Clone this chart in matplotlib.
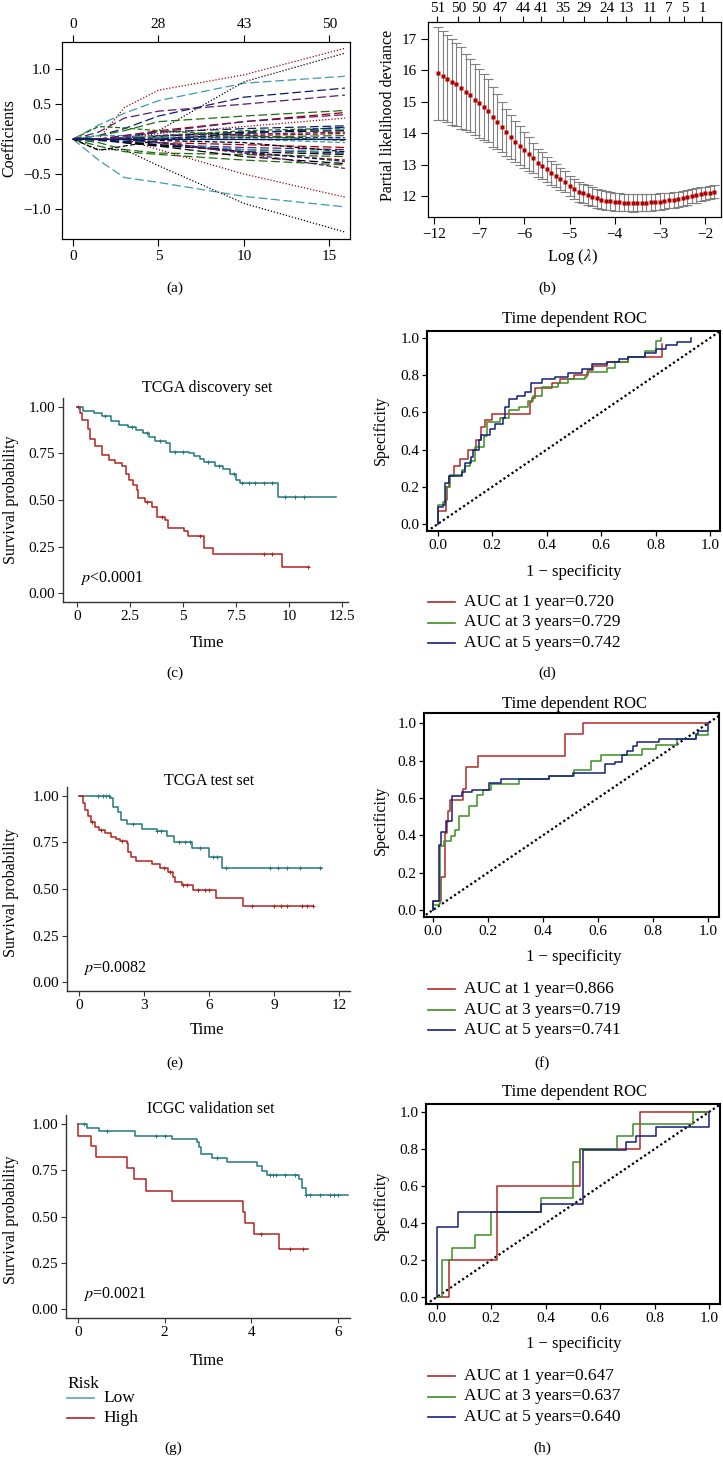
# LASSO / survival / ROC panel figure
import numpy as np
import matplotlib.pyplot as plt
from matplotlib.lines import Line2D

plt.rcParams['font.family'] = ['Liberation Serif', 'DejaVu Serif']
plt.rcParams['mathtext.fontset'] = 'stix'
plt.rcParams['xtick.labelsize'] = 11
plt.rcParams['ytick.labelsize'] = 11

# ---------------- (a) coefficient paths ----------------
a_l1 = [0, 1.5, 3, 5, 10, 15.9]
a_paths = [
    [0, 0, 0.45, 0.70, 0.92, 1.30],
    [0, 0.20, 0.37, 0.55, 0.80, 0.90],
    [0, 0, 0, 0.12, 0.82, 1.23],
    [0, 0.05, 0.15, 0.33, 0.60, 0.73],
    [0, 0.10, 0.30, 0.40, 0.50, 0.63],
    [0, 0.05, 0.12, 0.25, 0.33, 0.41],
    [0, 0, 0.05, 0.12, 0.25, 0.38],
    [0, 0, 0.02, 0.08, 0.18, 0.30],
    [0, 0, 0.03, 0.10, 0.15, 0.19],
    [0, 0, 0.01, 0.05, 0.12, 0.16],
    [0, 0, 0.02, 0.05, 0.10, 0.14],
    [0, 0, 0.00, 0.04, 0.10, 0.12],
    [0, 0, 0.02, 0.05, 0.07, 0.10],
    [0, 0, 0, 0.02, 0.05, 0.08],
    [0, 0, 0, 0.02, 0.03, 0.05],
    [0, 0, 0, 0, 0.02, 0.02],
    [0, 0.05, 0.05, 0.03, 0.00, -0.05],
    [0, 0, -0.02, -0.05, -0.08, -0.12],
    [0, 0, -0.05, -0.08, -0.12, -0.15],
    [0, -0.02, -0.05, -0.10, -0.15, -0.20],
    [0, 0, -0.03, -0.08, -0.18, -0.22],
    [0, -0.05, -0.15, -0.20, -0.22, -0.25],
    [0, 0, -0.02, -0.06, -0.15, -0.18],
    [0, 0, 0, -0.05, -0.20, -0.30],
    [0, 0, 0, -0.05, -0.18, -0.32],
    [0, 0, -0.05, -0.10, -0.25, -0.35],
    [0, -0.10, -0.18, -0.22, -0.30, -0.37],
    [0, 0, 0, -0.05, -0.20, -0.42],
    [0, 0, 0, -0.15, -0.50, -0.83],
    [0, -0.30, -0.55, -0.62, -0.82, -0.97],
    [0, -0.15, -0.15, -0.38, -0.92, -1.33],
    [0, 0.18, 0.16, 0.12, 0.05, -0.02],
    [0, 0, 0.05, 0.10, 0.25, 0.35],
    [0, 0, -0.04, 0.00, 0.08, 0.17],
    [0, -0.16, -0.10, -0.02, -0.05, -0.18],
    [0, 0, 0, 0, 0, 0],
]
a_cols = ['r', 'c', 'k', 'b', 'm', 'g', 'r', 'r', 'b', 'g', 'c', 'k',
          'm', 'r', 'g', 'b', 'c', 'r', 'm', 'b', 'k', 'g', 'c', 'r',
          'b', 'k', 'g', 'm', 'r', 'c', 'k', 'g', 'm', 'b', 'k', 'b']
a_dash = ['d', 'l', 'd', 'l', 'l', 'l', 'l', 'd', 'l', 's', 'l', 'l',
          's', 's', 'l', 's', 's', 'l', 'l', 'l', 'l', 'l', 'l', 's',
          's', 'l', 'l', 's', 'd', 'l', 'd', 's', 'l', 'l', 's', 'o']
a_ticks = [0, 5, 10, 15]
a_df = ['0', '28', '43', '50']

# ---------------- (b) cross-validation curve ----------------
b_loglam = [-7.9, -7.8, -7.7, -7.6, -7.5, -7.4, -7.3, -7.2, -7.1, -7.0,
            -6.9, -6.8, -6.7, -6.6, -6.5, -6.4, -6.3, -6.2, -6.1, -6.0,
            -5.9, -5.8, -5.7, -5.6, -5.5, -5.4, -5.3, -5.2, -5.1, -5.0,
            -4.9, -4.8, -4.7, -4.6, -4.5, -4.4, -4.3, -4.2, -4.1, -4.0,
            -3.9, -3.8, -3.7, -3.6, -3.5, -3.4, -3.3, -3.2, -3.1, -3.0,
            -2.9, -2.8, -2.7, -2.6, -2.5, -2.4, -2.3, -2.2, -2.1, -2.0,
            -1.9, -1.8]
b_dev = [15.90, 15.83, 15.74, 15.64, 15.55, 15.44, 15.31, 15.20, 15.07, 14.95,
         14.84, 14.71, 14.52, 14.36, 14.20, 14.03, 13.89, 13.73, 13.60, 13.47,
         13.34, 13.20, 13.05, 12.97, 12.85, 12.73, 12.65, 12.54, 12.46, 12.32,
         12.22, 12.14, 12.08, 12.03, 11.98, 11.92, 11.88, 11.85, 11.83, 11.82,
         11.80, 11.79, 11.79, 11.78, 11.78, 11.78, 11.79, 11.80, 11.81, 11.82,
         11.84, 11.86, 11.88, 11.90, 11.93, 11.96, 11.99, 12.02, 12.06, 12.08,
         12.11, 12.14]
b_se = [1.47, 1.42, 1.40, 1.37, 1.33, 1.30, 1.22, 1.17, 1.14, 1.10,
        1.05, 1.00, 0.95, 0.88, 0.80, 0.75, 0.70, 0.66, 0.62, 0.57,
        0.53, 0.48, 0.45, 0.42, 0.39, 0.37, 0.36, 0.35, 0.34, 0.33,
        0.33, 0.32, 0.31, 0.31, 0.30, 0.30, 0.30, 0.30, 0.29, 0.29,
        0.28, 0.28, 0.28, 0.28, 0.27, 0.27, 0.27, 0.27, 0.26, 0.26,
        0.26, 0.25, 0.25, 0.24, 0.24, 0.24, 0.23, 0.23, 0.22, 0.22,
        0.21, 0.21]
b_ticks = [-8, -7, -6, -5, -4, -3, -2]
b_ticklabels = ['\u221212', '\u22127', '\u22126', '\u22125', '\u22124', '\u22123', '\u22122']
b_top_pos = [-7.92, -7.46, -7.0, -6.54, -6.02, -5.62, -5.14, -4.67, -4.18,
             -3.75, -3.22, -2.8, -2.46, -2.07]
b_top_df = ['51', '50', '50', '47', '44', '41', '35', '29', '24', '13', '11', '7', '5', '1']

# ---------------- (c) TCGA discovery set ----------------
c_low_t = [0, 0.3, 0.8, 1.2, 1.6, 2.0, 2.4, 2.8, 3.1, 3.4, 3.7, 4.2, 4.4, 5.3, 5.5,
           5.8, 6.0, 6.5, 6.9, 7.2, 7.5, 7.7, 9.5, 12.2]
c_low_s = [1.0, 0.98, 0.965, 0.95, 0.925, 0.905, 0.89, 0.875, 0.86, 0.84, 0.815,
           0.805, 0.76, 0.75, 0.735, 0.72, 0.705, 0.685, 0.665, 0.64, 0.61, 0.59,
           0.515, 0.515]
c_low_cens = [0.05, 1.3, 2.6, 3.3, 3.9, 4.6, 5.0, 6.2, 6.7, 7.4, 7.8, 8.1, 8.4,
              8.8, 9.2, 9.8, 10.3, 10.7]
c_high_t = [0, 0.15, 0.25, 0.5, 0.62, 0.85, 1.2, 1.5, 1.8, 2.1, 2.3, 2.45, 2.65,
            2.85, 2.9, 3.2, 3.55, 3.75, 4.15, 4.3, 5.05, 5.25, 6.0, 6.4, 9.67, 10.93]
c_high_s = [1.0, 0.965, 0.93, 0.88, 0.83, 0.79, 0.74, 0.715, 0.70, 0.68, 0.64, 0.61,
            0.58, 0.555, 0.51, 0.49, 0.465, 0.41, 0.39, 0.35, 0.335, 0.305, 0.24,
            0.21, 0.14, 0.14]
c_high_cens = [3.3, 4.0, 5.8, 8.8, 9.2, 10.9]

# ---------------- (e) TCGA test set ----------------
e_low_t = [0, 1.45, 1.55, 1.8, 1.95, 2.2, 2.9, 3.6, 4.05, 4.4, 5.2, 6.0, 6.6, 11.2]
e_low_s = [1.0, 0.99, 0.94, 0.915, 0.87, 0.85, 0.825, 0.81, 0.785, 0.755, 0.72,
           0.67, 0.615, 0.615]
e_low_cens = [0.9, 1.1, 1.25, 1.4, 2.5, 3.6, 3.8, 4.6, 4.9, 5.1, 5.6, 6.2, 6.35,
              6.8, 8.8, 9.2, 9.6, 10.2, 11.1]
e_high_t = [0, 0.18, 0.3, 0.42, 0.57, 0.72, 0.92, 1.2, 1.5, 1.72, 1.9, 2.2, 2.26,
            2.42, 2.62, 3.37, 3.73, 4.1, 4.35, 4.42, 4.73, 5.24, 6.32, 7.55, 10.8]
e_high_s = [1.0, 0.96, 0.925, 0.89, 0.86, 0.835, 0.815, 0.8, 0.78, 0.77, 0.76, 0.745,
            0.7, 0.672, 0.65, 0.636, 0.615, 0.59, 0.565, 0.54, 0.52, 0.493, 0.453,
            0.408, 0.408]
e_high_cens = [0.6, 1.0, 2.0, 3.9, 4.2, 4.8, 5.0, 5.5, 5.8, 6.0, 8.0, 9.0, 9.3,
               9.6, 10.3, 10.5, 10.8]

# ---------------- (g) ICGC validation set ----------------
g_low_t = [0, 0.21, 0.48, 1.31, 2.16, 2.74, 2.8, 2.83, 3.1, 3.45, 4.14, 4.24, 4.36,
           5.1, 5.17, 5.27, 6.23]
g_low_s = [1.0, 0.98, 0.96, 0.937, 0.921, 0.9, 0.875, 0.835, 0.815, 0.795, 0.77,
           0.745, 0.725, 0.7, 0.655, 0.615, 0.615]
g_low_cens = [0.14, 0.66, 1.8, 2.02, 3.2, 4.43, 4.5, 4.58, 4.78, 5.01, 5.27, 5.36,
              5.59, 5.82, 5.9, 6.01]
g_high_t = [0, 0, 0.31, 0.41, 1.13, 1.3, 1.56, 2.18, 3.82, 3.86, 4.07, 4.63, 5.3]
g_high_s = [1.0, 0.934, 0.88, 0.82, 0.76, 0.70, 0.637, 0.583, 0.525, 0.463, 0.408,
            0.323, 0.323]
g_high_cens = [4.22, 4.9, 5.2]

# ---------------- ROC curves ----------------
d_fpr_1 = [0, 0, 0.03, 0.035, 0.04, 0.06, 0.08, 0.11, 0.14, 0.16, 0.174, 0.2, 0.34,
           0.345, 0.358, 0.42, 0.45, 0.5, 0.55, 0.57, 0.62, 0.7, 0.8, 0.825]
d_tpr_1 = [0, 0.07, 0.13, 0.2, 0.26, 0.31, 0.35, 0.40, 0.45, 0.52, 0.56, 0.59, 0.657,
           0.68, 0.733, 0.76, 0.78, 0.80, 0.83, 0.85, 0.87, 0.90, 0.90, 0.97]
d_fpr_3 = [0, 0, 0.02, 0.03, 0.045, 0.09, 0.1, 0.119, 0.137, 0.168, 0.18, 0.23, 0.26,
           0.3, 0.33, 0.35, 0.383, 0.44, 0.48, 0.54, 0.548, 0.62, 0.65, 0.7, 0.76,
           0.8, 0.82]
d_tpr_3 = [0, 0.10, 0.12, 0.2, 0.263, 0.29, 0.31, 0.338, 0.415, 0.472, 0.549, 0.57,
           0.612, 0.63, 0.66, 0.69, 0.737, 0.76, 0.78, 0.79, 0.818, 0.84, 0.87, 0.9,
           0.93, 0.982, 1.0]
d_fpr_5 = [0, 0, 0.02, 0.027, 0.04, 0.09, 0.1, 0.12, 0.13, 0.15, 0.16, 0.19, 0.21,
           0.24, 0.248, 0.26, 0.29, 0.32, 0.344, 0.383, 0.43, 0.48, 0.53, 0.567,
           0.622, 0.665, 0.7, 0.76, 0.8, 0.84, 0.88, 0.93]
d_tpr_5 = [0, 0.09, 0.1, 0.22, 0.26, 0.28, 0.33, 0.36, 0.40, 0.45, 0.48, 0.51, 0.54,
           0.57, 0.63, 0.67, 0.69, 0.71, 0.76, 0.78, 0.79, 0.81, 0.835, 0.86, 0.87,
           0.89, 0.90, 0.92, 0.94, 0.96, 0.98, 1.0]
d_auc = ['0.720', '0.729', '0.742']

f_fpr_1 = [0, 0, 0.03, 0.045, 0.05, 0.055, 0.062, 0.11, 0.12, 0.165, 0.48, 0.545, 1.0]
f_tpr_1 = [0, 0.05, 0.175, 0.41, 0.47, 0.53, 0.59, 0.65, 0.765, 0.825, 0.94, 1.0, 1.0]
f_fpr_3 = [0, 0, 0.02, 0.025, 0.04, 0.067, 0.08, 0.095, 0.13, 0.16, 0.18, 0.21,
           0.313, 0.42, 0.513, 0.573, 0.61, 0.76, 0.81, 0.888, 0.955, 1.0]
f_tpr_3 = [0, 0.027, 0.03, 0.34, 0.367, 0.394, 0.43, 0.502, 0.555, 0.618, 0.64,
           0.672, 0.699, 0.717, 0.749, 0.8, 0.828, 0.86, 0.885, 0.914, 0.939, 0.95]
f_fpr_5 = [0, 0, 0.02, 0.03, 0.046, 0.068, 0.107, 0.143, 0.204, 0.246, 0.42, 0.51,
           0.624, 0.66, 0.688, 0.704, 0.727, 0.743, 0.82, 0.955, 0.965, 1.0]
f_tpr_5 = [0, 0.05, 0.35, 0.42, 0.475, 0.609, 0.633, 0.645, 0.681, 0.699, 0.717,
           0.735, 0.78, 0.79, 0.83, 0.851, 0.878, 0.9, 0.918, 0.94, 0.96, 1.0]
f_auc = ['0.866', '0.719', '0.741']

h_fpr_1 = [0, 0.045, 0.22, 0.524, 0.745, 1.0]
h_tpr_1 = [0, 0.2, 0.6, 0.8, 1.0, 1.0]
h_fpr_3 = [0, 0.02, 0.055, 0.14, 0.2, 0.383, 0.5, 0.524, 0.66, 0.72, 0.94, 1.0]
h_tpr_3 = [0, 0.2, 0.265, 0.336, 0.46, 0.537, 0.73, 0.8, 0.87, 0.937, 1.0, 1.0]
h_fpr_5 = [0, 0, 0.076, 0.383, 0.537, 0.696, 0.73, 0.804, 1.0]
h_tpr_5 = [0, 0.38, 0.458, 0.503, 0.794, 0.835, 0.871, 0.916, 1.0]
h_auc = ['0.647', '0.637', '0.640']

# colours
palette = {'k': '#000000', 'r': '#a00000', 'g': '#1c6e0c', 'b': '#0b1b6b',
           'c': '#3b9bb3', 'm': '#5b1a6b'}
dashes = {'d': (0, (1, 1.5)), 's': (0, (4, 2)), 'l': (0, (7, 3)), 'o': '-'}
low_col, high_col = '#23797d', '#b3231f'
roc_cols = ['#b22a26', '#3e8e22', '#15207a']
roc_names = ['AUC at 1 year=', 'AUC at 3 years=', 'AUC at 5 years=']

W, H = 723, 1458
fig = plt.figure(figsize=(W / 100, H / 100), dpi=100)


def rect(l, t, r, b):
    return [l / W, 1 - b / H, (r - l) / W, (b - t) / H]


def put(x, y, s, size=11, **kw):
    kw.setdefault('ha', 'center')
    fig.text(x / W, 1 - y / H, s, va='center', fontsize=size, **kw)


def leg_row(x, y, color, s):
    fig.add_artist(Line2D([x / W, (x + 27) / W], [1 - y / H, 1 - y / H],
                          color=color, lw=1.2, transform=fig.transFigure))
    put(x + 36, y, s, size=12.5, ha='left')


def surv_at(t, s, c):
    idx = np.searchsorted(t, c, side='right') - 1
    return np.asarray(s)[idx]


def km_panel(box, xlim, xticks, low, high, title, title_xy, ptext, p_xy, time_y, ylab_y):
    ax = fig.add_axes(rect(*box))
    for (t, s, cens), col in zip([low, high], [low_col, high_col]):
        ax.step(t, s, where='post', color=col, lw=1.1)
        ax.plot(cens, surv_at(t, s, cens), '+', color=col, ms=3, mew=0.7)
    ax.set_xlim(*xlim)
    ax.set_ylim(-0.048, 1.048)
    ax.set_xticks(xticks)
    ax.set_xticklabels([('%g' % v) for v in xticks])
    ax.set_yticks([0, 0.25, 0.5, 0.75, 1.0])
    ax.set_yticklabels(['0.00', '0.25', '0.50', '0.75', '1.00'])
    for side in ['top', 'right']:
        ax.spines[side].set_visible(False)
    for side in ['left', 'bottom']:
        ax.spines[side].set_color('#333333')
        ax.spines[side].set_linewidth(1.0)
    ax.tick_params(length=3.5, width=0.8, color='#333333', pad=2)
    put(title_xy[0], title_xy[1], title, size=11.5)
    put(p_xy[0], p_xy[1], ptext, size=11.5, ha='left')
    put(207, time_y, 'Time', size=12)
    put(11, ylab_y, 'Survival probability', size=11.5, rotation=90)
    return ax


def roc_panel(box, xlim, ylim, curves, aucs, title_y, xlab_y, ylab_y, leg_y):
    ax = fig.add_axes(rect(*box))
    ax.plot([-0.1, 1.1], [-0.1, 1.1], color='black', ls=(0, (1, 1.2)), lw=1.6)
    for (fpr, tpr), col in zip(curves, roc_cols):
        ax.step(fpr, tpr, where='post', color=col, lw=1.1)
    ax.set_xlim(*xlim)
    ax.set_ylim(*ylim)
    ticks = [0, 0.2, 0.4, 0.6, 0.8, 1.0]
    ax.set_xticks(ticks)
    ax.set_yticks(ticks)
    ax.set_xticklabels(['0.0', '0.2', '0.4', '0.6', '0.8', '1.0'])
    ax.set_yticklabels(['0.0', '0.2', '0.4', '0.6', '0.8', '1.0'])
    for sp in ax.spines.values():
        sp.set_linewidth(1.5)
    ax.tick_params(length=3.5, width=0.9, pad=2)
    put(575, title_y, 'Time dependent ROC', size=12)
    put(574, xlab_y, '1 \u2212 specificity', size=12)
    put(381, ylab_y, 'Specificity', size=11.5, rotation=90)
    for i in range(3):
        leg_row(428, leg_y + 20.5 * i, roc_cols[i], roc_names[i] + aucs[i])
    return ax


# ---------------- panel (a) ----------------
ax = fig.add_axes(rect(62, 42, 350, 239))
for vals, c, d in zip(a_paths, a_cols, a_dash):
    ax.plot(a_l1, vals, color=palette[c], ls=dashes[d], lw=0.9)
ax.set_xlim(-0.64, 16.2)
ax.set_ylim(-1.43, 1.39)
ax.set_xticks(a_ticks)
ax.set_yticks([-1, -0.5, 0, 0.5, 1])
ax.set_yticklabels(['\u22121.0', '\u22120.5', '0.0', '0.5', '1.0'])
ax.tick_params(length=5, width=0.8, pad=3)
top = ax.twiny()
top.set_xlim(ax.get_xlim())
top.set_xticks(a_ticks)
top.set_xticklabels(a_df)
top.tick_params(length=5, width=0.8, pad=3)
put(9, 138, 'Coefficients', size=11.5, rotation=90)
put(175, 288, '(a)')

# ---------------- panel (b) ----------------
ax = fig.add_axes(rect(428, 22, 721, 217))
ax.errorbar(b_loglam, b_dev, yerr=b_se, fmt='none', ecolor='#808080',
            elinewidth=0.8, capsize=3.5, capthick=0.8)
ax.plot(b_loglam, b_dev, 's', color='#b00000', ms=2.4, mec='none')
ax.set_xlim(-8.13, -1.65)
ax.set_ylim(11.33, 17.54)
ax.set_xticks(b_ticks)
ax.set_xticklabels(b_ticklabels)
ax.set_yticks([12, 13, 14, 15, 16, 17])
ax.tick_params(length=5, width=0.8, pad=3)
top = ax.twiny()
top.set_xlim(ax.get_xlim())
top.set_xticks(b_top_pos)
top.set_xticklabels(b_top_df)
top.tick_params(length=4, width=0.8, pad=1)
put(388, 115, 'Partial likelihood deviance', size=11.5, rotation=90)
put(572, 257, r'Log ($\lambda$)', size=12)
put(547, 288, '(b)')

# ---------------- survival panels ----------------
km_panel((63, 398, 348, 602), (-0.66, 12.78), [0, 2.5, 5, 7.5, 10, 12.5],
         (c_low_t, c_low_s, c_low_cens), (c_high_t, c_high_s, c_high_cens),
         'TCGA discovery set', (207, 388), r'$p$<0.0001', (80, 578), 643, 500)
put(175, 673, '(c)')

km_panel((67, 787, 350, 991), (-0.55, 12.5), [0, 3, 6, 9, 12],
         (e_low_t, e_low_s, e_low_cens), (e_high_t, e_high_s, e_high_cens),
         'TCGA test set', (209, 781), r'$p$=0.0082', (83, 968), 1030, 893)
put(175, 1063, '(e)')

km_panel((66, 1115, 350, 1318), (-0.277, 6.28), [0, 2, 4, 6],
         (g_low_t, g_low_s, g_low_cens), (g_high_t, g_high_s, g_high_cens),
         'ICGC validation set', (211, 1109), r'$p$=0.0021', (83, 1294), 1361, 1220)
put(67, 1384, 'Risk', size=12.5, ha='left')
leg_row(67, 1398, '#5aa5b5', 'Low')
leg_row(67, 1418, high_col, 'High')
put(173, 1448, '(g)')

# ---------------- ROC panels ----------------
roc_panel((427, 331, 720, 531), (-0.04, 1.037), (-0.038, 1.038),
          [(d_fpr_1, d_tpr_1), (d_fpr_3, d_tpr_3), (d_fpr_5, d_tpr_5)], d_auc,
          319, 572, 430, 602)
put(547, 673, '(d)')

roc_panel((424, 713, 719, 917), (-0.033, 1.04), (-0.038, 1.055),
          [(f_fpr_1, f_tpr_1), (f_fpr_3, f_tpr_3), (f_fpr_5, f_tpr_5)], f_auc,
          704, 957, 820, 989)
put(542, 1063, '(f)')

roc_panel((426, 1104, 720, 1304), (-0.04, 1.04), (-0.038, 1.043),
          [(h_fpr_1, h_tpr_1), (h_fpr_3, h_tpr_3), (h_fpr_5, h_tpr_5)], h_auc,
          1092, 1344, 1205, 1376)
put(542, 1448, '(h)')

plt.savefig('out.png', dpi=100)
